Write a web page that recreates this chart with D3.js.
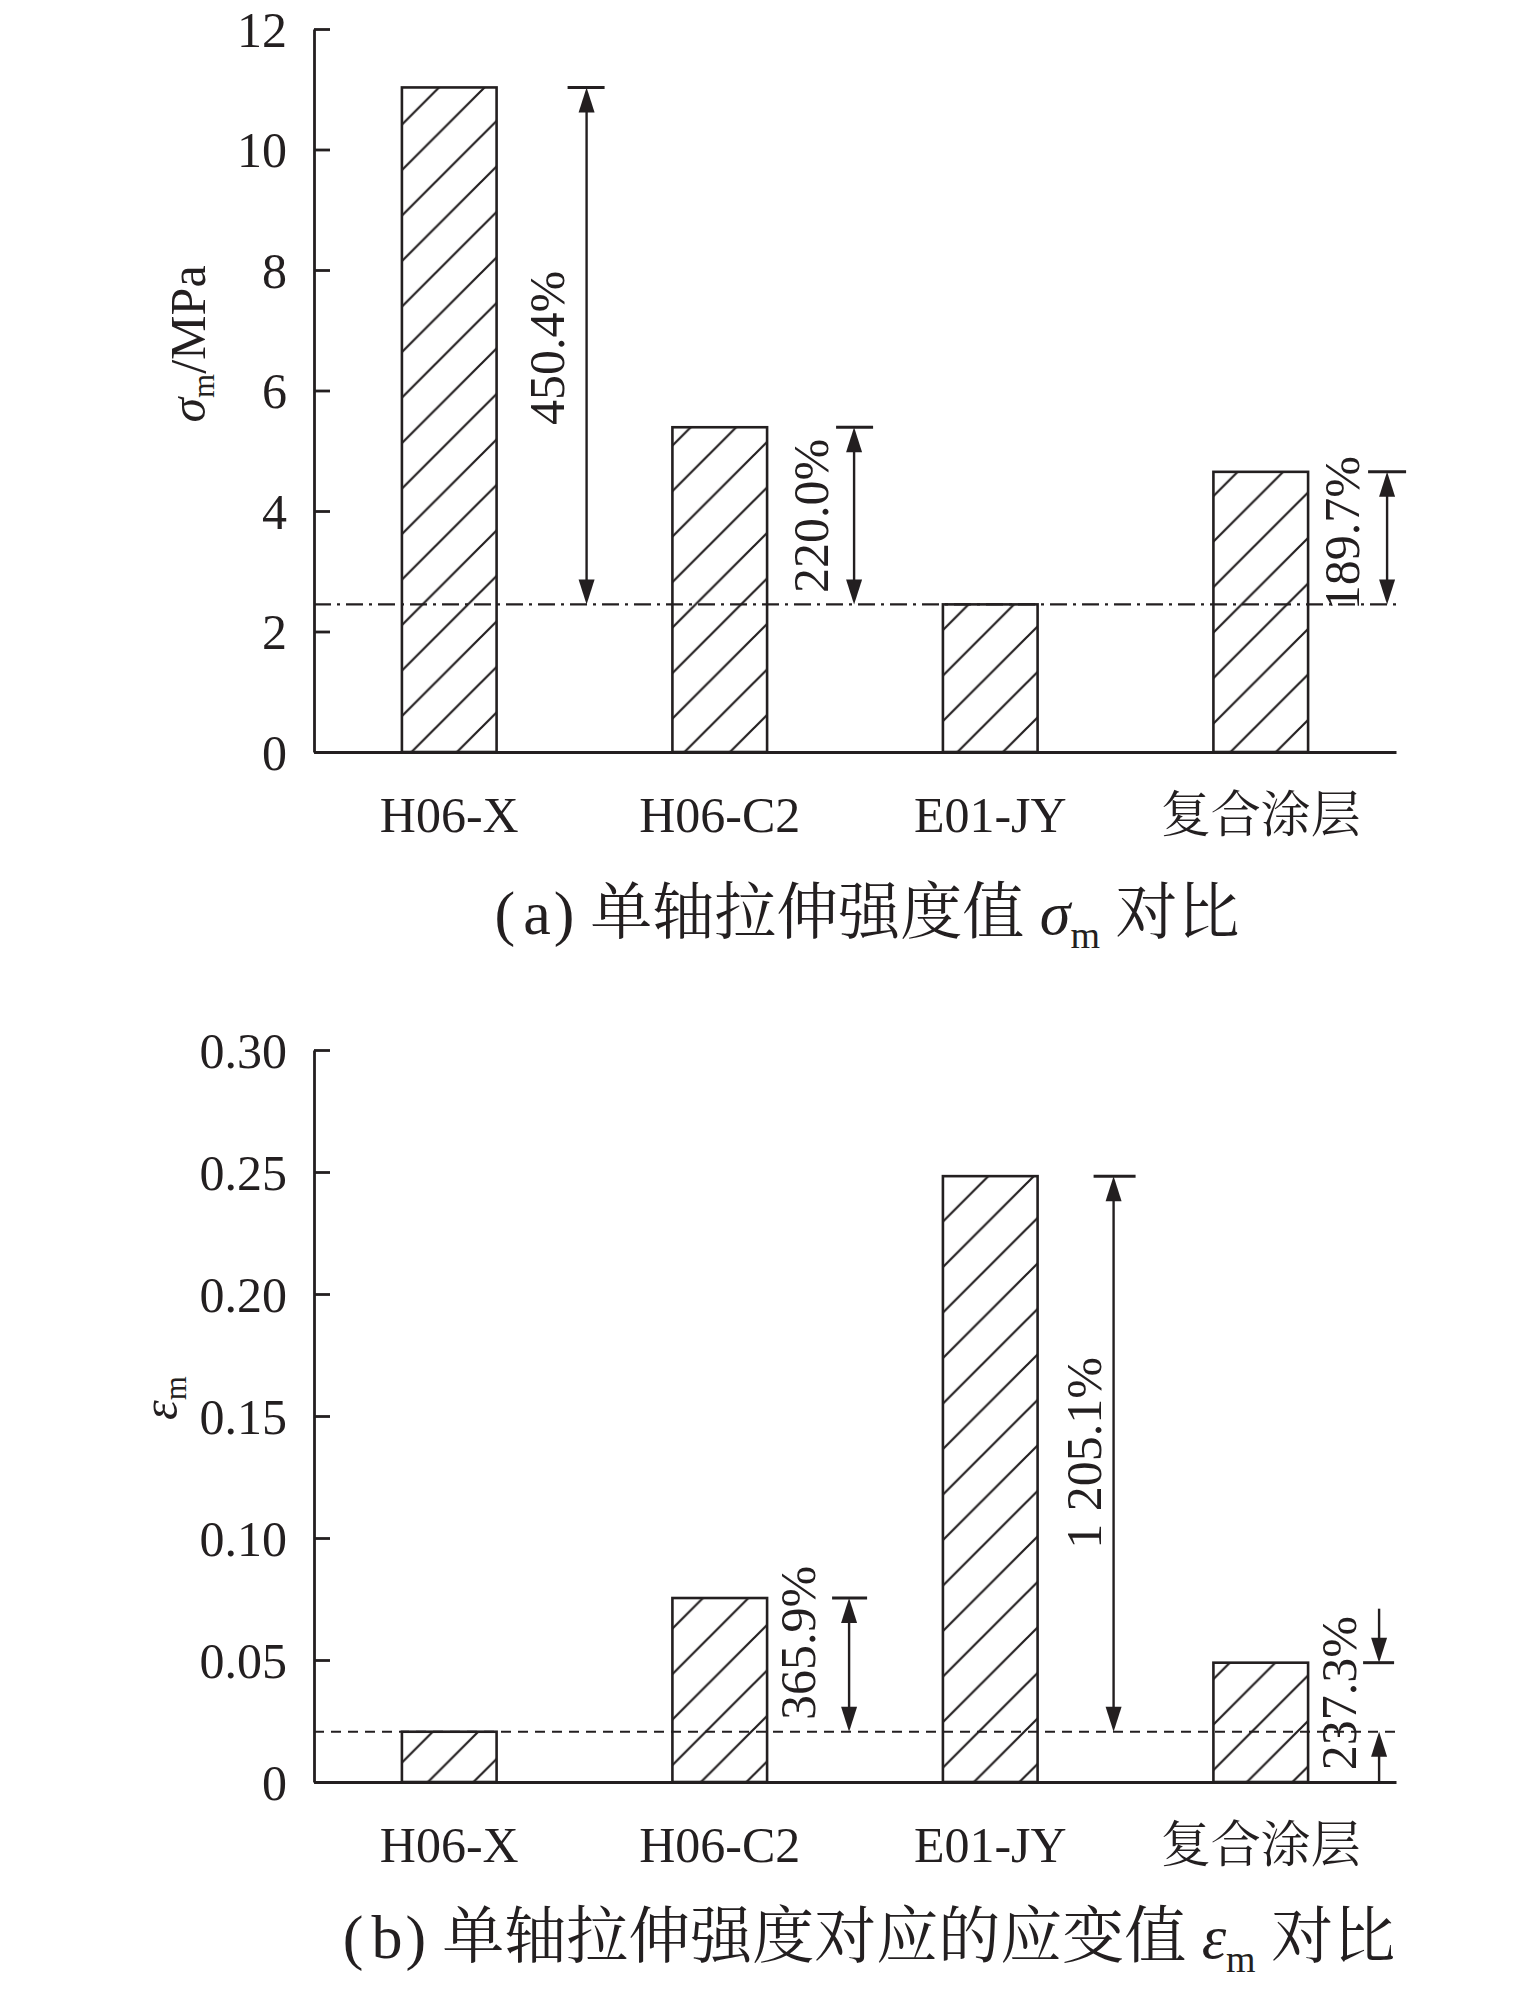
<!DOCTYPE html>
<html>
<head>
<meta charset="utf-8">
<script src="https://cdn.jsdelivr.net/npm/d3@7"></script>
<style>
  html, body { margin: 0; padding: 0; background: #fff; }
  svg { display: block; }
  text { fill: #231f20; }
</style>
</head>
<body>
<script>
// ---------------- data ----------------
const categories = ["H06-X", "H06-C2", "E01-JY", "复合涂层"];
const strengthValues = [11.03, 5.39, 2.45, 4.65];        // σm / MPa
const strainValues = [0.0206, 0.0754, 0.2483, 0.0489];    // εm
const strengthTicks = [0, 2, 4, 6, 8, 10, 12];
const strengthTickLabels = ["0", "2", "4", "6", "8", "10", "12"];
const strainTicks = [0, 0.05, 0.10, 0.15, 0.20, 0.25, 0.30];
const strainTickLabels = ["0", "0.05", "0.10", "0.15", "0.20", "0.25", "0.30"];
const strengthBaseCategory = "E01-JY";
const strainBaseCategory = "H06-X";
const strengthAnnotations = [
  { category: "H06-X", label: "450.4%" },
  { category: "H06-C2", label: "220.0%" },
  { category: "复合涂层", label: "189.7%" }
];
const strainAnnotations = [
  { category: "H06-C2", label: "365.9%" },
  { category: "E01-JY", label: "1 205.1%" },
  { category: "复合涂层", label: "237.3%" }
];

// ---------------- layout / style ----------------
const W = 1535, H = 1997;
const FONT = "'Liberation Serif','Times New Roman','Noto Serif CJK SC','Noto Sans CJK SC',serif";
const INK = "#231f20";

const svg = d3.select("body").append("svg").attr("width", W).attr("height", H)
  .attr("viewBox", `0 0 ${W} ${H}`);

const defs = svg.append("defs");
const hp = 45.5;
const pat = defs.append("pattern").attr("id", "hatch")
  .attr("patternUnits", "userSpaceOnUse").attr("width", hp).attr("height", hp)
  .attr("patternTransform", "translate(26,0)");
pat.append("path")
  .attr("d", `M-6,6 L6,-6 M0,${hp} L${hp},0 M${hp - 6},${hp + 6} L${hp + 6},${hp - 6}`)
  .attr("stroke", INK).attr("stroke-width", 2.2).attr("fill", "none");

function drawPanel(p) {
  const g = svg.append("g");
  const x = d3.scaleBand().domain(categories).range([p.left, p.right])
    .paddingInner(0.65).paddingOuter(0.325);
  const y = d3.scaleLinear().domain([p.ticks[0], p.ticks[p.ticks.length - 1]]).range([p.bottom, p.top]);
  const bw = x.bandwidth();
  const valueOf = c => p.values[categories.indexOf(c)];
  const baseVal = valueOf(p.baseCategory);

  // bars
  g.selectAll("rect.bar").data(categories).join("rect").attr("class", "bar")
    .attr("x", d => x(d)).attr("width", bw)
    .attr("y", d => y(valueOf(d))).attr("height", d => y(0) - y(valueOf(d)))
    .attr("fill", "url(#hatch)").attr("stroke", INK).attr("stroke-width", 2.6);

  // reference line
  g.append("line").attr("x1", p.left).attr("x2", p.right)
    .attr("y1", y(baseVal)).attr("y2", y(baseVal))
    .attr("stroke", INK).attr("stroke-width", 2.2).attr("stroke-dasharray", p.dash);

  // y axis
  const yAxis = d3.axisLeft(y).tickValues(p.ticks)
    .tickFormat((d, i) => p.tickLabels[i]).tickSizeInner(-16).tickSizeOuter(0).tickPadding(27);
  const ya = g.append("g").attr("transform", `translate(${p.left},0)`).call(yAxis);
  ya.select(".domain").attr("stroke", INK).attr("stroke-width", 2.8);
  ya.selectAll(".tick line").attr("stroke", INK).attr("stroke-width", 2.8);
  ya.selectAll(".tick text").attr("font-family", FONT).attr("font-size", 50).attr("fill", INK)
    .attr("dy", "0.34em");

  // x axis
  const xAxis = d3.axisBottom(x).tickSize(0).tickPadding(0);
  const xa = g.append("g").attr("transform", `translate(0,${p.bottom})`).call(xAxis);
  xa.select(".domain").attr("stroke", INK).attr("stroke-width", 2.8);
  xa.selectAll(".tick text").attr("font-family", FONT).attr("font-size", 50).attr("fill", INK)
    .attr("y", 80).attr("dy", 0);

  // annotations
  p.annotations.forEach((a, i) => {
    const L = p.annLayout[i];
    const ax = x(a.category) + bw + L.dx;
    const yTop = y(valueOf(a.category));
    const yBase = y(baseVal);
    const head = (tx, ty, dir) => {
      g.append("path")
        .attr("d", `M${tx},${ty} L${tx - 8},${ty - dir * 25} L${tx + 8},${ty - dir * 25} Z`)
        .attr("fill", INK);
    };
    const line = (x1, y1, x2, y2, w) => g.append("line")
      .attr("x1", x1).attr("y1", y1).attr("x2", x2).attr("y2", y2)
      .attr("stroke", INK).attr("stroke-width", w);
    line(ax - L.capL, yTop, ax + L.capR, yTop, 3);
    if (!L.outside) {
      line(ax, yTop + 10, ax, yBase - 10, 2.4);
      head(ax, yTop, -1);
      head(ax, yBase, 1);
    } else {
      line(ax, yTop - 54, ax, yTop - 10, 2.4);
      head(ax, yTop, 1);
      line(ax, y(0), ax, yBase + 10, 2.4);
      head(ax, yBase, -1);
    }
    g.append("text")
      .attr("transform", `translate(${ax + L.ldx},${(yTop + yBase) / 2 + L.ldy}) rotate(-90)`)
      .attr("text-anchor", "middle").attr("font-family", FONT).attr("font-size", 50)
      .attr("fill", INK).text(a.label);
  });

  // y label
  const yl = g.append("text")
    .attr("transform", `translate(${p.yLabel.x},${p.yLabel.y}) rotate(-90)`)
    .attr("text-anchor", "middle").attr("font-family", FONT).attr("font-size", 50).attr("fill", INK);
  yl.append("tspan").attr("font-style", "italic").text(p.yLabel.sym);
  yl.append("tspan").attr("font-size", 31).attr("dy", 9).text("m");
  if (p.yLabel.unit) yl.append("tspan").attr("dy", -9).text(p.yLabel.unit);

  // caption
  const cap = g.append("text").attr("x", p.caption.x).attr("y", p.caption.y)
    .attr("text-anchor", "middle").attr("font-family", FONT).attr("font-size", 62).attr("fill", INK);
  cap.append("tspan").text("(");
  cap.append("tspan").attr("dx", 8).text(p.caption.tag);
  cap.append("tspan").attr("dx", 3).text(")");
  cap.append("tspan").attr("dx", 16).text(p.caption.pre + " ");
  cap.append("tspan").attr("font-style", "italic").text(p.caption.sym);
  cap.append("tspan").attr("font-size", 38).attr("dy", 14).text("m");
  cap.append("tspan").attr("dy", -14).text(" " + p.caption.post);
}

drawPanel({
  left: 314, right: 1396, top: 29, bottom: 752,
  values: strengthValues, ticks: strengthTicks, tickLabels: strengthTickLabels,
  baseCategory: strengthBaseCategory, annotations: strengthAnnotations,
  dash: "17,6,3,6",
  annLayout: [
    { dx: 90, capL: 19, capR: 18, ldx: -23, ldy: 2 },
    { dx: 87, capL: 18, capR: 19, ldx: -26, ldy: 0 },
    { dx: 79, capL: 19, capR: 19, ldx: -28, ldy: -5 }
  ],
  yLabel: { x: 205, y: 344, sym: "σ", unit: "/MPa" },
  caption: { x: 867, y: 934, tag: "a", pre: "单轴拉伸强度值", sym: "σ", post: "对比" }
});

drawPanel({
  left: 314, right: 1396, top: 1050, bottom: 1782,
  values: strainValues, ticks: strainTicks, tickLabels: strainTickLabels,
  baseCategory: strainBaseCategory, annotations: strainAnnotations,
  dash: "10,7",
  annLayout: [
    { dx: 82, capL: 17, capR: 18, ldx: -34, ldy: -22 },
    { dx: 76, capL: 20, capR: 22, ldx: -13, ldy: -1 },
    { dx: 71, capL: 16, capR: 15, ldx: -23, ldy: -4, outside: true }
  ],
  yLabel: { x: 177, y: 1398, sym: "ε", unit: null },
  caption: { x: 869, y: 1958, tag: "b", pre: "单轴拉伸强度对应的应变值", sym: "ε", post: "对比" }
});
</script>
</body>
</html>
